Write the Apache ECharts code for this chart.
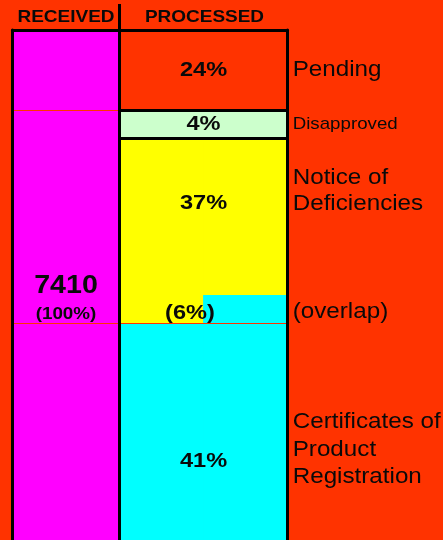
<!DOCTYPE html>
<html><head><meta charset="utf-8">
<script src="https://cdn.jsdelivr.net/npm/echarts@6/dist/echarts.min.js"></script>
<style>html,body{margin:0;padding:0;background:#FF3300;overflow:hidden}#c{width:443px;height:540px}</style>
</head><body><div id="c"></div>
<script>
// ---- data ----
const headers = ['RECEIVED', 'PROCESSED'];
const receivedTotal = 7410;
const receivedPct = 100;
const segmentNames = ['Pending', 'Disapproved', 'Notice of\nDeficiencies', '(overlap)', 'Certificates of\nProduct\nRegistration'];
const segmentPct = [24, 4, 37, 6, 41];
// apparent block heights as drawn in the picture (share of column height; the original is not to scale)
const segmentDrawn = [14.1, 4.9, 27.5, 5.0, 48.5];
// part of the column height that is visible in the picture
const visibleShare = 89.5;
const halves = ['left', 'right'];

// ---- build ----
const FONT = "'Liberation Sans', Arial, sans-serif";
const BG = '#FF3300';
const colTotal = segmentDrawn.reduce((a, b) => a + b, 0);
const [dPend, dDis, dNot, dOv, dCert] = segmentDrawn;

const chart = echarts.init(document.getElementById('c'), null, {renderer: 'canvas'});

const axisLineStyle = {show: true, lineStyle: {color: '#000', width: 3}};
const hiddenAxis = {axisTick: {show: false}, axisLabel: {show: false}, splitLine: {show: false}};
const G0 = {left: 12.5, top: 30, width: 107, bottom: 0};
const G1 = {left: 119.5, top: 30, width: 168, bottom: 0};

const bar = (name, data, color, extra) => Object.assign({
  type: 'bar', name, data, stack: 'p', xAxisIndex: 1, yAxisIndex: 1,
  barWidth: '101%', barCategoryGap: 0, itemStyle: {color}, silent: true, animation: false
}, extra || {});

const ml = (vals, color, width) => ({
  silent: true, symbol: 'none', label: {show: false},
  lineStyle: {color, width, type: 'solid'},
  data: vals.map(v => ({yAxis: v}))
});

const yAx = (grid, pos) => Object.assign({gridIndex: grid, type: 'value', inverse: true, min: 0, max: visibleShare,
  position: pos, axisLine: axisLineStyle, z: 10}, hiddenAxis);

chart.setOption({
  backgroundColor: BG,
  animation: false,
  grid: [G0, G1],
  xAxis: [
    Object.assign({gridIndex: 0, type: 'category', data: ['received'], position: 'top', axisLine: axisLineStyle, z: 10}, hiddenAxis),
    Object.assign({gridIndex: 1, type: 'category', data: halves, position: 'top', axisLine: axisLineStyle, z: 10}, hiddenAxis)
  ],
  yAxis: [yAx(0, 'left'), yAx(1, 'left'), yAx(1, 'right')],
  series: [
    {type: 'bar', name: 'Received', data: [colTotal], xAxisIndex: 0, yAxisIndex: 0, barWidth: '100%',
     itemStyle: {color: '#FF00FF'}, silent: true,
     markLine: ml([dPend, dPend + dDis + dNot + dOv], BG, 1)},
    bar(segmentNames[0], [dPend, dPend], BG, {markLine: ml([dPend, dPend + dDis], '#000', 3)}),
    bar(segmentNames[1], [dDis, dDis], '#CCFFCC'),
    bar(segmentNames[2], [dNot + dOv, dNot], '#FFFF00'),
    bar(segmentNames[4], [dCert, dOv + dCert], '#00FFFF', {markLine: ml([dPend + dDis + dNot + dOv], BG, 1)})
  ]
});

// ---- text (positioned from the data through the axes) ----
const yPx = v => chart.convertToPixel({yAxisIndex: 1}, v);
const cx1 = G1.left + G1.width / 2;
const cx0 = G0.left + G0.width / 2;
const starts = [0, dPend, dPend + dDis, dPend + dDis + dNot, dPend + dDis + dNot + dOv];
const ends = [dPend, dPend + dDis, dPend + dDis + dNot, dPend + dDis + dNot + dOv, colTotal];
const mid = i => yPx((starts[i] + ends[i]) / 2);

const txt = (text, x, y, size, weight, align, sx, lh) => ({
  type: 'text', x, y, scaleX: sx, z: 100, silent: true,
  style: {text, fill: '#0a0a0a', fontSize: size, fontWeight: weight, fontFamily: FONT,
          align, verticalAlign: 'middle', lineHeight: lh || Math.round(size * 1.2)}
});

const inner = [
  txt(segmentPct[0] + '%', cx1, mid(0), 20.5, 'bold', 'center', 1.15),
  txt(segmentPct[1] + '%', cx1, mid(1), 20.5, 'bold', 'center', 1.15),
  txt(segmentPct[2] + '%', cx1, mid(2) - 13, 20.5, 'bold', 'center', 1.15),
  txt('(' + segmentPct[3] + '%)', cx1 - 13.5, mid(3) + 4, 20.5, 'bold', 'center', 1.15),
  txt(segmentPct[4] + '%', cx1, mid(4), 20.5, 'bold', 'center', 1.15),
  txt(String(receivedTotal), cx0, yPx(colTotal / 2) - 29, 26.5, 'bold', 'center', 1.08),
  txt('(' + receivedPct + '%)', cx0, yPx(colTotal / 2), 16.5, 'bold', 'center', 1.14)
];
const rx = 292.7;
const side = [
  txt(segmentNames[0], rx, mid(0), 22, 'normal', 'left', 1.1),
  txt(segmentNames[1], rx, mid(1), 17, 'normal', 'left', 1.1),
  txt(segmentNames[2], rx, mid(2) - 26, 22, 'normal', 'left', 1.1, 26),
  txt(segmentNames[3], rx, mid(3) + 3, 22, 'normal', 'left', 1.1),
  txt(segmentNames[4], rx, mid(4) - 12, 22, 'normal', 'left', 1.1, 27.5)
];
const heads = [
  txt(headers[0], cx0, 17, 16.5, 'bold', 'center', 1.15),
  txt(headers[1], cx1 + 1, 17, 16.5, 'bold', 'center', 1.15),
  {type: 'line', z: 100, silent: true, shape: {x1: G1.left, y1: 4, x2: G1.left, y2: G1.top},
   style: {stroke: '#000', lineWidth: 3}}
];
chart.setOption({graphic: heads.concat(inner, side)});
</script>
</body></html>
